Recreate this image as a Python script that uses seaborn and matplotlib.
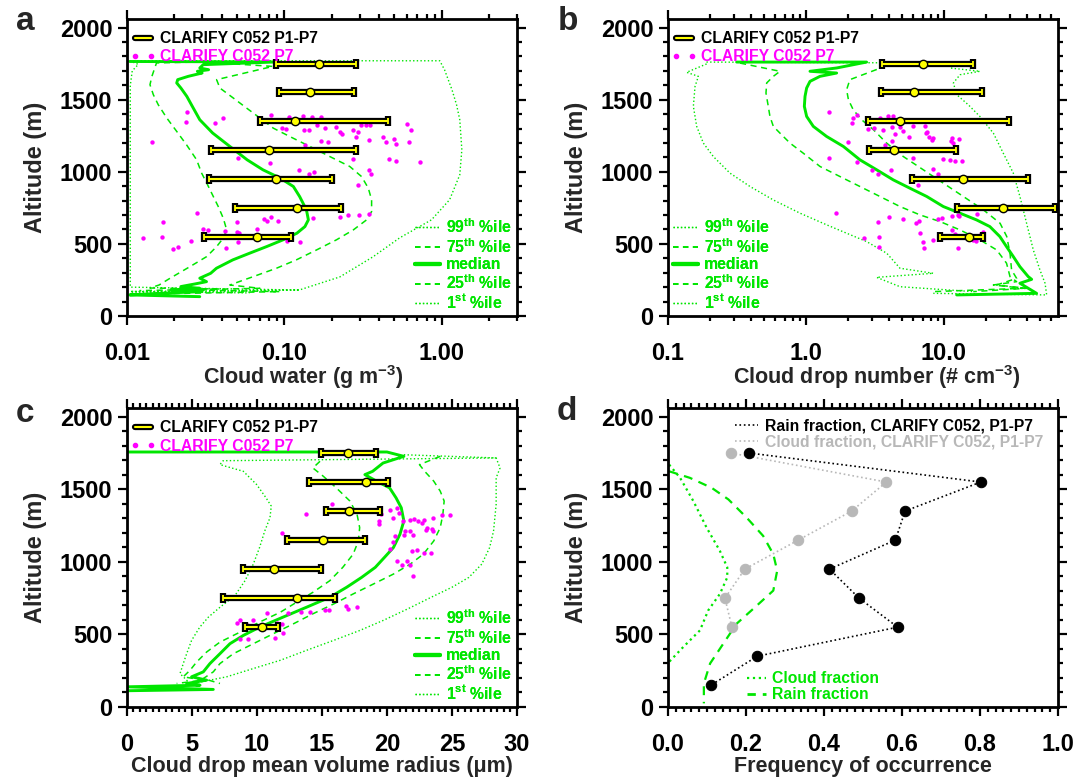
import numpy as np
import matplotlib
matplotlib.use('Agg')
import matplotlib.pyplot as plt
import seaborn as sns
from matplotlib.lines import Line2D
from matplotlib.ticker import MultipleLocator, LogLocator, NullFormatter, FormatStrFormatter

# ---------------- data ----------------
bar_alt = [1750, 1550, 1350, 1150, 950, 750, 550]

# panel a: cloud water (g m-3)
lwc_mean = [0.166, 0.146, 0.117, 0.080, 0.089, 0.121, 0.067]
lwc_lo = [0.088, 0.093, 0.070, 0.034, 0.033, 0.0485, 0.031]
lwc_hi = [0.284, 0.277, 0.452, 0.284, 0.200, 0.229, 0.110]

a_med_alt = [1765, 1762, 1743, 1720, 1708, 1697, 1685, 1662, 1639, 1616, 1581, 1523, 1454, 1361, 1269, 1176,
             1083, 1014, 956, 898, 828, 736, 667, 620, 574, 528, 481, 435, 389, 331, 296, 262, 238, 222, 204,
             192, 181, 169, 157, 146, 134]
a_med_val = [0.0104, 0.089, 0.0305, 0.029, 0.033, 0.028, 0.030, 0.0245, 0.021, 0.0207, 0.022, 0.024, 0.026, 0.029,
             0.035, 0.045, 0.058, 0.073, 0.094, 0.114, 0.125, 0.138, 0.142, 0.135, 0.120, 0.098, 0.077, 0.060,
             0.047, 0.037, 0.034, 0.029, 0.032, 0.027, 0.022, 0.029, 0.019, 0.030, 0.016, 0.0104, 0.029]
a_p25_alt = [1762, 1755, 1662, 1604, 1535, 1465, 1373, 1280, 1187, 1083, 991, 922, 852, 759, 678, 597, 540, 481,
             412, 342, 262, 215, 194, 187, 176]
a_p25_val = [0.03, 0.0154, 0.0144, 0.0140, 0.0147, 0.0158, 0.0179, 0.0207, 0.0239, 0.0277, 0.0298, 0.0321, 0.0345,
             0.038, 0.0409, 0.043, 0.0409, 0.0371, 0.0321, 0.0251, 0.0188, 0.016, 0.014, 0.039, 0.012]
a_p75_alt = [1762, 1731, 1639, 1581, 1512, 1442, 1373, 1303, 1245, 1176, 1106, 1037, 967, 887, 806, 724, 667, 597,
             528, 458, 389, 331, 273, 215, 192, 181, 169, 153]
a_p75_val = [0.03, 0.0845, 0.0371, 0.0389, 0.0473, 0.0575, 0.0699, 0.0849, 0.108, 0.145, 0.194, 0.26, 0.309, 0.341,
             0.358, 0.358, 0.333, 0.274, 0.214, 0.160, 0.119, 0.089, 0.0634, 0.045, 0.0699, 0.0239, 0.0936, 0.0147]
a_p99_alt = [1770, 1770, 1708, 1569, 1465, 1361, 1153, 979, 806, 667, 542, 410, 271, 181, 167, 160]
a_p99_val = [0.0104, 0.97, 1.04, 1.16, 1.24, 1.30, 1.34, 1.30, 1.12, 0.86, 0.54, 0.365, 0.225, 0.125, 0.029, 0.0104]
a_p1_alt = [1770, 1745, 1700, 1600, 1000, 400, 200, 180, 170, 160]
a_p1_val = [0.0104, 0.0118, 0.0108, 0.0105, 0.0105, 0.0105, 0.0105, 0.125, 0.0105, 0.06]

a_dot_val = [0.0239, 0.0236, 0.0362, 0.0405, 0.0144, 0.0817, 0.1073, 0.1303, 0.150, 0.172,
             0.0959, 0.1017, 0.1336, 0.1438, 0.160, 0.181, 0.214, 0.225, 0.231, 0.274,
             0.294, 0.305, 0.329, 0.352, 0.287, 0.346, 0.424, 0.496, 0.511, 0.441,
             0.172, 0.190, 0.1357, 0.274, 0.463, 0.515, 0.0509, 0.0809, 0.1236, 0.1438,
             0.154, 0.346, 0.354, 0.2915, 0.0277, 0.0170, 0.0497, 0.0741, 0.0770, 0.0821,
             0.0914, 0.151, 0.227, 0.254, 0.299, 0.346, 0.0126, 0.0168, 0.0254, 0.0302,
             0.0327, 0.0421, 0.0502, 0.0514, 0.0509, 0.0425, 0.0197, 0.0211, 0.0669, 0.1032,
             0.1254, 0.60, 0.64, 0.73, 0.62]
a_dot_alt = [1412, 1342, 1338, 1373, 1210, 1391, 1377, 1384, 1379, 1379,
             1301, 1296, 1292, 1292, 1326, 1305, 1310, 1278, 1264, 1287,
             1275, 1322, 1322, 1322, 1241, 1222, 1241, 1229, 1192, 1204,
             1217, 1208, 1187, 1092, 1088, 1076, 1095, 1060, 1009, 988,
             1002, 1014, 986, 910, 713, 655, 650, 671, 662, 683,
             657, 678, 685, 701, 697, 708, 539, 551, 523, 606,
             597, 592, 585, 574, 511, 474, 467, 477, 606, 521,
             514, 1330, 1290, 1065, 1210]

# panel b: cloud drop number (# cm-3)
nd_mean = [7.0, 6.06, 4.80, 4.34, 13.8, 26.6, 15.3]
nd_lo = [3.53, 3.48, 2.80, 2.88, 5.89, 12.5, 9.35]
nd_hi = [16.1, 18.9, 29.7, 12.2, 40.8, 63.7, 19.3]

b_med_alt = [1761, 1761, 1720, 1697, 1685, 1662, 1627, 1581, 1523, 1454, 1384, 1315, 1245, 1176, 1083, 1014, 944,
             886, 829, 759, 713, 666, 620, 551, 481, 412, 342, 273, 254, 227, 157, 146]
b_med_val = [0.3145, 2.75, 1.668, 1.069, 1.668, 1.263, 1.069, 1.011, 0.984, 0.973, 1.011, 1.130, 1.411, 1.865,
             2.46, 3.25, 4.29, 5.67, 7.49, 9.89, 13.06, 17.25, 21.5, 25.4, 28.4, 31.8, 35.5, 40.8, 43.2, 35.5,
             46.9, 12.36]
b_p25_alt = [1754, 1697, 1662, 1616, 1546, 1454, 1384, 1315, 1268, 1199, 1129, 1037, 967, 898, 829, 759, 701, 655,
             597, 528, 458, 366, 273, 238, 215, 192, 169]
b_p25_val = [0.333, 0.648, 0.580, 0.519, 0.513, 0.533, 0.548, 0.580, 0.648, 0.766, 0.956, 1.263, 1.764, 2.46, 3.43,
             4.80, 6.70, 9.35, 13.06, 18.2, 24.1, 28.4, 30.1, 33.6, 22.8, 37.6, 8.37]
b_p75_alt = [1736, 1639, 1569, 1500, 1430, 1361, 1292, 1199, 1106, 1014, 921, 829, 736, 643, 551, 435, 319, 261,
             215, 192, 169]
b_p75_val = [3.85, 2.08, 1.97, 2.03, 2.20, 2.53, 3.08, 3.84, 5.07, 7.08, 9.89, 13.8, 19.3, 25.5, 28.5, 30.1, 30.9,
             33.6, 24.1, 39.7, 16.3]
b_p99_alt = [1761, 1754, 1720, 1697, 1673, 1616, 1535, 1465, 1384, 1268, 1129, 991, 829, 643, 458, 319, 227, 146,
             157]
b_p99_val = [0.19, 11.7, 11.05, 18.2, 13.06, 11.7, 12.36, 15.0, 18.2, 22.8, 26.9, 31.8, 35.5, 39.7, 44.4, 49.6,
             54.0, 55.5, 8.37]
b_p1_alt = [1748, 1690, 1662, 1592, 1454, 1315, 1199, 1106, 991, 898, 805, 713, 632, 574, 516, 435, 331, 296, 268,
            203, 169]
b_p1_val = [0.1905, 0.1365, 0.166, 0.157, 0.1527, 0.1614, 0.1804, 0.213, 0.281, 0.393, 0.579, 0.905, 1.413, 1.97,
            2.75, 3.85, 4.80, 8.37, 3.25, 4.80, 16.3]

b_dot_val = [1.476, 2.355, 2.203, 2.14, 3.43, 3.95, 4.29, 4.80, 2.80, 3.13,
             3.59, 4.18, 4.80, 5.99, 7.28, 7.41, 7.57, 7.83, 8.37, 8.23,
             5.07, 4.41, 5.58, 4.22, 3.74, 2.03, 11.4, 12.9, 11.2, 11.7,
             9.89, 11.05, 12.0, 13.4, 1.476, 2.355, 3.03, 3.34, 4.11, 5.93,
             8.37, 9.0, 6.52, 1.64, 3.30, 3.38, 3.38, 3.99, 5.01, 6.26,
             6.59, 9.0, 9.62, 11.5, 12.7, 12.9, 17.4, 6.70, 7.08, 7.16,
             8.37, 11.4, 12.0, 12.7, 16.3, 17.1, 18.2, 19.3, 2.65]
b_dot_alt = [1412, 1396, 1373, 1338, 1373, 1389, 1384, 1361, 1296, 1301,
             1292, 1308, 1308, 1319, 1315, 1268, 1275, 1241, 1234, 1222,
             1280, 1264, 1241, 1215, 1187, 1210, 1234, 1229, 1217, 1199,
             1090, 1079, 1076, 1072, 1095, 1065, 1009, 986, 1009, 1095,
             1018, 986, 910, 713, 655, 551, 477, 683, 671, 648,
             662, 671, 678, 690, 701, 694, 708, 574, 511, 470,
             528, 597, 569, 474, 528, 518, 562, 585, 539]

# panel c: cloud drop mean volume radius (um)
rv_mean = [17.0, 18.4, 17.1, 15.05, 11.3, 13.1, 10.4]
rv_lo = [14.9, 14.0, 15.3, 12.3, 8.9, 7.4, 9.1]
rv_hi = [19.15, 20.1, 19.5, 18.3, 14.9, 16.0, 11.6]

c_med_alt = [1757, 1757, 1727, 1681, 1624, 1601, 1556, 1510, 1441, 1373, 1282, 1190, 1099, 1030, 962, 893, 825,
             756, 687, 619, 550, 493, 436, 367, 299, 242, 208, 185, 162, 150, 139, 121, 112]
c_med_val = [0.0, 20.0, 21.3, 19.7, 18.9, 18.3, 19.2, 20.2, 20.7, 21.1, 21.3, 21.0, 20.5, 19.8, 19.1, 18.05, 16.9,
             15.6, 13.8, 12.0, 10.2, 8.95, 7.92, 7.15, 6.38, 5.87, 4.97, 6.13, 4.59, 5.62, 0.0, 6.64, 0.0]
c_p25_alt = [1693, 1647, 1590, 1510, 1419, 1327, 1236, 1144, 1053, 962, 870, 790, 722, 653, 585, 516, 447, 379,
             310, 253, 208, 185, 162]
c_p25_val = [14.85, 14.3, 15.1, 16.1, 17.15, 17.7, 17.9, 17.8, 17.4, 16.6, 15.6, 14.3, 13.05, 11.8, 10.2, 8.7, 7.15,
             6.13, 5.36, 4.85, 4.33, 5.87, 3.82]
c_p75_alt = [1727, 1670, 1624, 1556, 1487, 1419, 1327, 1236, 1144, 1053, 985, 916, 847, 779, 710, 642, 573, 505,
             436, 367, 299, 242, 196, 162]
c_p75_val = [24.1, 22.5, 22.9, 23.6, 24.1, 24.4, 24.3, 24.1, 23.6, 22.8, 21.8, 20.5, 18.95, 17.4, 15.9, 14.3, 12.8,
             11.26, 9.72, 8.18, 7.15, 6.64, 5.87, 7.15]
c_p99_alt = [1738, 1716, 1647, 1579, 1396, 1213, 1099, 985, 893, 825, 756, 676, 596, 527, 459, 390, 322, 265, 208,
             162]
c_p99_val = [21.3, 28.4, 28.7, 28.4, 28.4, 28.2, 27.9, 27.3, 26.3, 25.0, 23.4, 21.6, 19.7, 17.9, 15.9, 13.8, 11.8,
             9.72, 7.67, 5.1]
c_p1_alt = [1716, 1697, 1670, 1624, 1533, 1441, 1384, 1304, 1213, 1099, 985, 870, 767, 687, 619, 550, 459, 367, 299,
            230, 162]
c_p1_val = [28.4, 7.4, 7.15, 8.95, 9.97, 10.7, 11.1, 11.0, 10.6, 10.2, 9.72, 9.08, 8.3, 7.15, 6.26, 5.6, 4.97, 4.59,
            4.33, 4.08, 4.85]

c_dot_val = [15.74, 13.74, 11.95, 19.41, 19.54, 19.41, 19.36, 20.23, 20.79, 20.95,
             20.44, 21.26, 21.77, 22.08, 22.41, 22.67, 22.85, 23.56, 24.21, 24.85,
             23.05, 23.0, 23.44, 23.56, 21.38, 21.77, 22.03, 21.31, 20.62, 20.49,
             20.23, 21.9, 22.28, 22.85, 23.36, 20.74, 21.13, 21.77, 21.56, 22.03,
             16.85, 16.97, 17.72, 15.56, 15.23, 14.08, 13.38, 12.36, 10.74, 9.72,
             8.69, 8.49, 9.15, 11.51, 11.95, 12.03, 11.38, 8.69, 9.33]
c_dot_alt = [1396, 1332, 1197, 1355, 1332, 1282, 1259, 1355, 1368, 1339,
             1300, 1282, 1286, 1297, 1282, 1270, 1288, 1304, 1320, 1320,
             1236, 1217, 1224, 1213, 1213, 1213, 1183, 1183, 1179, 1140,
             1087, 1076, 1080, 1064, 1058, 1007, 980, 980, 1007, 904,
             699, 676, 692, 669, 669, 653, 653, 646, 646, 601,
             596, 578, 573, 580, 573, 511, 477, 470, 470]

# panel d: frequency of occurrence
rain_alt = [1750, 1550, 1350, 1150, 950, 750, 550, 350, 150]
rain_frac = [0.208, 0.802, 0.608, 0.583, 0.414, 0.49, 0.589, 0.229, 0.110]
cloud_alt = [1750, 1550, 1350, 1150, 950, 750, 550]
cloud_frac = [0.161, 0.56, 0.471, 0.334, 0.197, 0.146, 0.164]
model_rain_alt = [1624, 1579, 1510, 1430, 1304, 1179, 1053, 939, 802, 687, 574, 437, 300, 162, 25]
model_rain_val = [0.003, 0.056, 0.112, 0.155, 0.202, 0.244, 0.270, 0.280, 0.270, 0.223, 0.176, 0.142, 0.108,
                  0.092, 0.092]
model_cloud_alt = [1670, 1579, 1419, 1236, 1076, 962, 893, 779, 665, 528, 413, 311]
model_cloud_val = [0.003, 0.031, 0.065, 0.099, 0.133, 0.152, 0.152, 0.133, 0.103, 0.082, 0.039, 0.003]

# ---------------- style ----------------
sns.set_style('ticks')
plt.rcParams['font.family'] = ['Liberation Sans', 'DejaVu Sans']
plt.rcParams['font.weight'] = 'bold'
plt.rcParams['mathtext.fontset'] = 'custom'
plt.rcParams['mathtext.rm'] = 'Liberation Sans:bold'
plt.rcParams['mathtext.it'] = 'Liberation Sans:bold'
plt.rcParams['mathtext.bf'] = 'Liberation Sans:bold'

GREEN = '#00e600'
MAGENTA = '#ff00ff'
YELLOW = '#ffff00'
GREY = '#b8b8b8'
TICK_FS = 17
LAB_FS = 15.5
YLAB_FS = 17
LEG_FS = 11.3

fig = plt.figure(figsize=(10.89, 7.80), dpi=100)
ax_a = fig.add_axes([0.1166, 0.5949, 0.3581, 0.3808])
ax_b = fig.add_axes([0.6134, 0.5949, 0.3581, 0.3808])
ax_c = fig.add_axes([0.1166, 0.0936, 0.3581, 0.3833])
ax_d = fig.add_axes([0.6134, 0.0936, 0.3581, 0.3833])


def profile(ax, val, alt, ls, lw):
    sns.lineplot(x=val, y=alt, ax=ax, sort=False, estimator=None, color=GREEN,
                 linestyle=ls, linewidth=lw, zorder=2)


def percentiles(ax, curves):
    for (val, alt), ls, lw in zip(curves, [':', (0, (4, 3)), '-', (0, (4, 3)), ':'],
                                  [1.0, 1.1, 2.1, 1.1, 1.0]):
        profile(ax, val, alt, ls, lw)


def obs_bars(ax, mean, lo, hi):
    mean = np.array(mean)
    xerr = [mean - np.array(lo), np.array(hi) - mean]
    ax.errorbar(mean, bar_alt, xerr=xerr, fmt='none', ecolor='black', elinewidth=4.5,
                capsize=3.4, capthick=4.5, zorder=5)
    ax.errorbar(mean, bar_alt, xerr=xerr, fmt='none', ecolor=YELLOW, elinewidth=1.5,
                capsize=2.3, capthick=1.3, zorder=6)
    sns.scatterplot(x=mean, y=bar_alt, ax=ax, color=YELLOW, edgecolor='black', s=36,
                    linewidth=1, zorder=7)


def dots(ax, val, alt):
    sns.scatterplot(x=val, y=alt, ax=ax, color=MAGENTA, s=10, linewidth=0, zorder=4)


def style_axis(ax):
    ax.set_ylim(0, 2060)
    ax.yaxis.set_major_locator(MultipleLocator(500))
    ax.yaxis.set_minor_locator(MultipleLocator(100))
    for s in ax.spines.values():
        s.set_linewidth(2)
        s.set_color('black')
    ax.tick_params(which='both', direction='out', top=True, right=True, width=1.6, colors='black')
    ax.tick_params(which='major', length=6.5, labelsize=TICK_FS)
    ax.tick_params(which='minor', length=3.5)
    ax.tick_params(axis='x', which='major', pad=12)
    ax.tick_params(axis='y', which='major', pad=4)
    ax.set_ylabel('Altitude (m)', fontsize=YLAB_FS, fontweight='bold')
    ax.yaxis.set_label_coords(-0.205, 0.5)
    for t in ax.get_xticklabels() + ax.get_yticklabels():
        t.set_fontweight('bold')


def obs_legend(ax):
    h = [(Line2D([], [], color='black', lw=4.5), Line2D([], [], color=YELLOW, lw=1.5)),
         Line2D([], [], color=MAGENTA, marker='o', ms=3, ls='none')]
    leg = ax.legend(h, ['CLARIFY C052 P1-P7', 'CLARIFY C052 P7'], loc='upper left',
                    bbox_to_anchor=(0.0, 0.97), frameon=False, fontsize=LEG_FS,
                    labelcolor=['black', MAGENTA], numpoints=2, handlelength=1.6,
                    handletextpad=0.3, labelspacing=0.22, borderaxespad=0.0, borderpad=0.2)
    ax.add_artist(leg)


pct_labels = ['99$^{th}$ %ile', '75$^{th}$ %ile', 'median', '25$^{th}$ %ile', '1$^{st}$ %ile']


def pct_legend(ax, loc, anchor):
    h = [Line2D([], [], color=GREEN, lw=1.0, ls=':'),
         Line2D([], [], color=GREEN, lw=1.3, ls=(0, (3, 2.5))),
         Line2D([], [], color=GREEN, lw=3),
         Line2D([], [], color=GREEN, lw=1.3, ls=(0, (3, 2.5))),
         Line2D([], [], color=GREEN, lw=1.0, ls=':')]
    leg = ax.legend(h, pct_labels, loc=loc, bbox_to_anchor=anchor, frameon=False, fontsize=LEG_FS,
                    labelcolor=GREEN, handlelength=1.6, handletextpad=0.4, labelspacing=0.08,
                    borderaxespad=0.1, borderpad=0.2)
    ax.add_artist(leg)


# ---------------- panel a ----------------
ax = ax_a
ax.set_xscale('log')
percentiles(ax, [(a_p99_val, a_p99_alt), (a_p75_val, a_p75_alt), (a_med_val, a_med_alt),
                 (a_p25_val, a_p25_alt), (a_p1_val, a_p1_alt)])
dots(ax, a_dot_val, a_dot_alt)
obs_bars(ax, lwc_mean, lwc_lo, lwc_hi)
ax.set_xlim(0.01, 3.0)
ax.set_xticks([0.01, 0.1, 1.0], ['0.01', '0.10', '1.00'])
ax.xaxis.set_minor_locator(LogLocator(base=10, subs=np.arange(2, 10)))
ax.xaxis.set_minor_formatter(NullFormatter())
style_axis(ax)
ax.set_xlabel('Cloud water (g m$^{-3}$)', fontsize=LAB_FS, fontweight='bold')
ax.xaxis.set_label_coords(0.451, -0.158)
obs_legend(ax)
pct_legend(ax, 'lower right', (1.0, 0.0))

# ---------------- panel b ----------------
ax = ax_b
ax.set_xscale('log')
percentiles(ax, [(b_p99_val, b_p99_alt), (b_p75_val, b_p75_alt), (b_med_val, b_med_alt),
                 (b_p25_val, b_p25_alt), (b_p1_val, b_p1_alt)])
dots(ax, b_dot_val, b_dot_alt)
obs_bars(ax, nd_mean, nd_lo, nd_hi)
ax.set_xlim(0.1, 67)
ax.set_xticks([0.1, 1.0, 10.0], ['0.1', '1.0', '10.0'])
ax.xaxis.set_minor_locator(LogLocator(base=10, subs=np.arange(2, 10)))
ax.xaxis.set_minor_formatter(NullFormatter())
style_axis(ax)
ax.set_xlabel('Cloud drop number (# cm$^{-3}$)', fontsize=LAB_FS, fontweight='bold')
ax.xaxis.set_label_coords(0.536, -0.158)
obs_legend(ax)
pct_legend(ax, 'lower left', (0.0, 0.0))

# ---------------- panel c ----------------
ax = ax_c
percentiles(ax, [(c_p99_val, c_p99_alt), (c_p75_val, c_p75_alt), (c_med_val, c_med_alt),
                 (c_p25_val, c_p25_alt), (c_p1_val, c_p1_alt)])
dots(ax, c_dot_val, c_dot_alt)
obs_bars(ax, rv_mean, rv_lo, rv_hi)
ax.set_xlim(0, 30)
ax.xaxis.set_major_locator(MultipleLocator(5))
ax.xaxis.set_minor_locator(MultipleLocator(0.5))
style_axis(ax)
ax.set_xlabel('Cloud drop mean volume radius (\u03bcm)', fontsize=LAB_FS, fontweight='bold')
ax.xaxis.set_label_coords(0.5, -0.165)
obs_legend(ax)
pct_legend(ax, 'lower right', (1.0, 0.0))

# ---------------- panel d ----------------
ax = ax_d
sns.lineplot(x=model_cloud_val, y=model_cloud_alt, ax=ax, sort=False, estimator=None, color=GREEN,
             linestyle=':', linewidth=1.6)
sns.lineplot(x=model_rain_val, y=model_rain_alt, ax=ax, sort=False, estimator=None, color=GREEN,
             linestyle=(0, (4, 3)), linewidth=1.6)
sns.lineplot(x=cloud_frac, y=cloud_alt, ax=ax, sort=False, estimator=None, color=GREY,
             linestyle=':', linewidth=1.2, marker='o', markersize=7.5, markeredgecolor=GREY)
sns.lineplot(x=rain_frac, y=rain_alt, ax=ax, sort=False, estimator=None, color='black',
             linestyle=':', linewidth=1.2, marker='o', markersize=7.5, markeredgecolor='black')
ax.set_xlim(0, 1)
ax.xaxis.set_major_locator(MultipleLocator(0.2))
ax.xaxis.set_minor_locator(MultipleLocator(0.02))
ax.xaxis.set_major_formatter(FormatStrFormatter('%.1f'))
style_axis(ax)
ax.set_xlabel('Frequency of occurrence', fontsize=LAB_FS, fontweight='bold')
ax.xaxis.set_label_coords(0.5, -0.165)
leg1 = ax.legend([Line2D([], [], color='black', lw=1.2, ls=':'), Line2D([], [], color=GREY, lw=1.2, ls=':')],
                 ['Rain fraction, CLARIFY C052, P1-P7', 'Cloud fraction, CLARIFY C052, P1-P7'],
                 loc='upper right', bbox_to_anchor=(0.97, 0.975), frameon=False, fontsize=LEG_FS,
                 labelcolor=['black', GREY], handlelength=1.5, handletextpad=0.4, labelspacing=0.05,
                 borderaxespad=0.0, borderpad=0.2)
ax.add_artist(leg1)
ax.legend([Line2D([], [], color=GREEN, lw=1.6, ls=':'), Line2D([], [], color=GREEN, lw=2, ls=(0, (3, 2.5)))],
          ['Cloud fraction', 'Rain fraction'], loc='lower left', bbox_to_anchor=(0.19, 0.0), frameon=False,
          fontsize=LEG_FS, labelcolor=GREEN, handlelength=1.2, handletextpad=0.4, labelspacing=0.05,
          borderaxespad=0.1, borderpad=0.2)

# panel letters
for letter, (x, y) in zip('abcd', [(25, 21), (568, 22), (25, 414), (567, 412)]):
    fig.text(x / 1089, 1 - y / 780, letter, fontsize=24, fontweight='bold', ha='center', va='center')

fig.savefig('out.png', dpi=100)
